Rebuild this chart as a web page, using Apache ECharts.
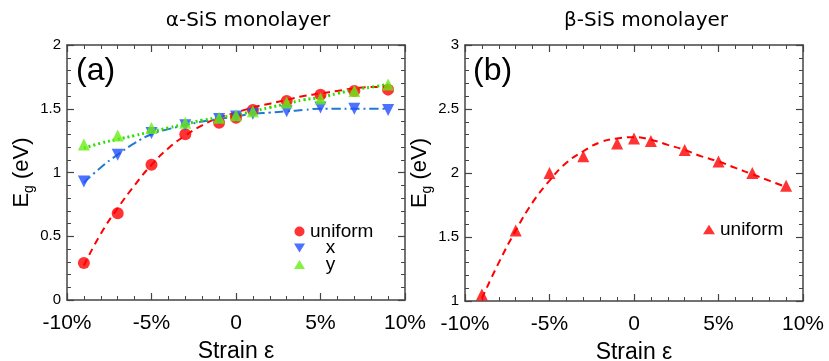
<!DOCTYPE html>
<html>
<head>
<meta charset="utf-8">
<script src="https://cdn.jsdelivr.net/npm/echarts@6/dist/echarts.min.js"></script>
<style>
  html, body { margin: 0; padding: 0; background: #fff; }
  #chart { width: 829px; height: 361px; }
</style>
</head>
<body>
<div id="chart"></div>
<script>
// strain points (%)
const strain = [-9, -7, -5, -3, -1, 0, 1, 3, 5, 7, 9];
// alpha-SiS band gaps (eV)
const alphaUniform = [0.29, 0.68, 1.06, 1.30, 1.39, 1.43, 1.49, 1.56, 1.61, 1.64, 1.65];
const alphaX = [0.93, 1.14, 1.31, 1.37, 1.42, 1.44, 1.46, 1.48, 1.51, 1.50, 1.49];
const alphaY = [1.22, 1.29, 1.35, 1.39, 1.43, 1.45, 1.48, 1.55, 1.58, 1.64, 1.69];
// beta-SiS band gaps (eV)
const betaUniform = [1.05, 1.55, 2.00, 2.13, 2.23, 2.27, 2.25, 2.18, 2.09, 2.00, 1.90];

// fitted curves, read at each integer strain
const fitStrain = [-9, -8, -7, -6, -5, -4, -3, -2, -1, 0, 1, 2, 3, 4, 5, 6, 7, 8, 9];
const fitAlphaUniform = [0.27, 0.52, 0.72, 0.90, 1.06, 1.19, 1.29, 1.37, 1.43, 1.47, 1.51, 1.54, 1.57, 1.60, 1.62, 1.64, 1.66, 1.67, 1.67];
const fitAlphaX = [0.92, 1.04, 1.14, 1.23, 1.30, 1.34, 1.37, 1.40, 1.42, 1.44, 1.46, 1.47, 1.48, 1.49, 1.50, 1.50, 1.50, 1.50, 1.50];
const fitAlphaY = [1.19, 1.23, 1.26, 1.29, 1.32, 1.35, 1.38, 1.41, 1.43, 1.45, 1.48, 1.51, 1.54, 1.57, 1.59, 1.62, 1.65, 1.67, 1.69];
const fitBetaUniform = [1.02, 1.30, 1.55, 1.77, 1.94, 2.08, 2.17, 2.24, 2.27, 2.28, 2.26, 2.22, 2.18, 2.13, 2.09, 2.04, 1.99, 1.94, 1.89];

const xTicks = { '-10': '-10%', '-5': '-5%', '0': '0', '5': '5%', '10': '10%' };

const FONT = '"Liberation Sans", Arial, sans-serif';
const TITLE_FONT = '"DejaVu Sans", Verdana, sans-serif';
const AX = '#444';
const RED = '#ff0000';
const BLUE = '#1f4fff';
const BLUE_LINE = '#1f7ad6';
const GREEN = '#66ee11';
const GREEN_LINE = '#2edd00';

const pair = (xs, ys) => xs.map((x, i) => [x, ys[i]]);

function xAxis(gi, pos) {
  return {
    type: 'value', gridIndex: gi, position: pos,
    min: -10, max: 10, interval: 5,
    axisLine: { show: true, onZero: false, lineStyle: { color: AX, width: 1.5 } },
    axisTick: { show: true, inside: true, length: 7, lineStyle: { color: AX, width: 1.2 } },
    minorTick: { show: true, splitNumber: 5, length: 4, lineStyle: { color: AX, width: 1 } },
    splitLine: { show: false },
    axisLabel: {
      show: pos === 'bottom', margin: 13, color: '#000', fontSize: 21, fontFamily: FONT,
      formatter: (v) => xTicks[String(v)] ?? ''
    },
    name: pos === 'bottom' ? 'Strain ε' : '',
    nameLocation: 'middle', nameGap: 40,
    nameTextStyle: { color: '#000', fontSize: 23, fontFamily: FONT }
  };
}

function yAxis(gi, pos, min, max) {
  return {
    type: 'value', gridIndex: gi, position: pos,
    min: min, max: max, interval: 0.5,
    axisLine: { show: true, onZero: false, lineStyle: { color: AX, width: 1.5 } },
    axisTick: { show: true, inside: true, length: 7, lineStyle: { color: AX, width: 1.2 } },
    minorTick: { show: true, splitNumber: 5, length: 4, lineStyle: { color: AX, width: 1 } },
    splitLine: { show: false },
    axisLabel: {
      show: pos === 'left', margin: 6, color: '#000', fontSize: 15, fontFamily: FONT
    },
    name: pos === 'left' ? '{e|E}{s|g}{e| (eV)}' : '',
    nameLocation: 'middle', nameRotate: 90, nameGap: 30,
    nameTextStyle: {
      rich: {
        e: { fontSize: 22, fontFamily: FONT, color: '#000', lineHeight: 28 },
        s: { fontSize: 14, fontFamily: FONT, color: '#000', lineHeight: 12, verticalAlign: 'bottom' }
      }
    }
  };
}

function scatter(name, xi, yi, data, symbol, color, size, rotate) {
  return {
    name: name, type: 'scatter', xAxisIndex: xi, yAxisIndex: yi,
    data: data, symbol: symbol, symbolSize: size, symbolRotate: rotate || 0,
    itemStyle: { color: color }, z: 3
  };
}

function fit(xi, yi, data, color, type, width) {
  return {
    name: 'fit', type: 'line', xAxisIndex: xi, yAxisIndex: yi,
    data: data, smooth: true, showSymbol: false, silent: true,
    lineStyle: { color: color, type: type, width: width }, z: 2
  };
}

const chart = echarts.init(document.getElementById('chart'), null, { renderer: 'canvas' });

const option = {
  backgroundColor: '#fff',
  animation: false,
  textStyle: { fontFamily: FONT },
  grid: [
    { left: 67, right: 424, top: 45, bottom: 61, outerBoundsMode: 'none', containLabel: false },
    { left: 465, right: 26, top: 45, bottom: 60, outerBoundsMode: 'none', containLabel: false }
  ],
  xAxis: [xAxis(0, 'bottom'), xAxis(0, 'top'), xAxis(1, 'bottom'), xAxis(1, 'top')],
  yAxis: [yAxis(0, 'left', 0, 2), yAxis(0, 'right', 0, 2), yAxis(1, 'left', 1, 3), yAxis(1, 'right', 1, 3)],
  legend: [
    {
      orient: 'vertical', left: 294, top: 222, padding: 0,
      itemWidth: 11, itemHeight: 10, itemGap: -2.5,
      textStyle: { fontSize: 19, fontFamily: FONT, color: '#000', lineHeight: 14 },
      formatter: (n) => n === 'uniform' ? n : '   ' + n,
      data: [
        { name: 'uniform', icon: 'circle' },
        { name: 'x', icon: 'path://M0,0L10,0L5,8Z' },
        { name: 'y', icon: 'path://M5,0L10,8L0,8Z' }
      ]
    },
    {
      orient: 'vertical', left: 703, top: 220, padding: 0,
      itemWidth: 12, itemHeight: 10,
      textStyle: { fontSize: 19, fontFamily: FONT, color: '#000', lineHeight: 18 },
      formatter: () => 'uniform',
      data: [{ name: 'uniform (b)', icon: 'path://M5,0L10,8L0,8Z' }]
    }
  ],
  graphic: [
    { type: 'text', x: 248, y: 21, style: { text: 'α-SiS monolayer', font: '20px ' + TITLE_FONT, fill: '#000', align: 'center', verticalAlign: 'middle' } },
    { type: 'text', x: 646, y: 21, style: { text: 'β-SiS monolayer', font: '20px ' + TITLE_FONT, fill: '#000', align: 'center', verticalAlign: 'middle' } },
    { type: 'text', left: 76, top: 55, style: { text: '(a)', font: '32px ' + FONT, fill: '#000' } },
    { type: 'text', left: 473, top: 55, style: { text: '(b)', font: '32px ' + FONT, fill: '#000' } }
  ],
  series: [
    fit(0, 0, pair(fitStrain, fitAlphaUniform), RED, [7, 5], 2),
    fit(0, 0, pair(fitStrain, fitAlphaX), BLUE_LINE, [9, 4, 2, 4], 2),
    fit(0, 0, pair(fitStrain, fitAlphaY), GREEN_LINE, [2, 3], 3),
    scatter('uniform', 0, 0, pair(strain, alphaUniform), 'circle', RED, 12),
    scatter('x', 0, 0, pair(strain, alphaX), 'triangle', BLUE, 12, 180),
    scatter('y', 0, 0, pair(strain, alphaY), 'triangle', GREEN, 12),
    fit(2, 2, pair(fitStrain, fitBetaUniform), RED, [7, 5], 2),
    scatter('uniform (b)', 2, 2, pair(strain, betaUniform), 'triangle', RED, 12)
  ]
};

chart.setOption(option);
</script>
</body>
</html>
